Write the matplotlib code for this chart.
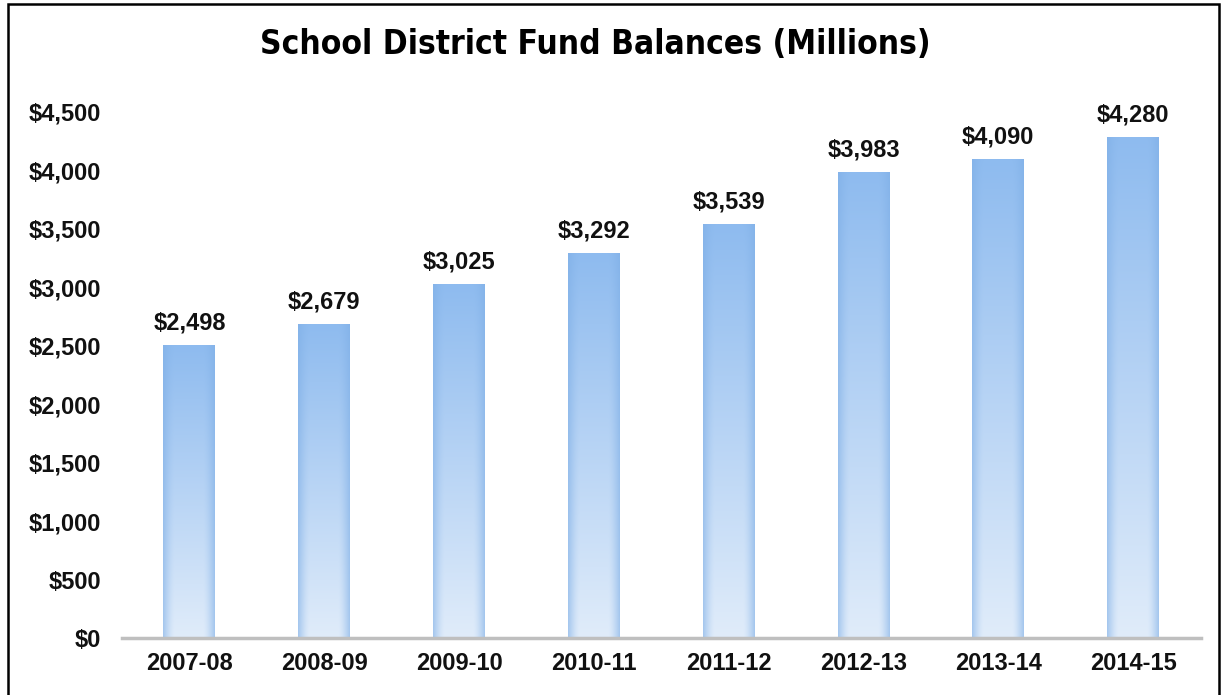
import numpy as np
import matplotlib.pyplot as plt
from matplotlib.patches import Rectangle
from matplotlib.colors import to_rgb

years = ['2007-08', '2008-09', '2009-10', '2010-11', '2011-12', '2012-13', '2013-14', '2014-15']
balances = [2498, 2679, 3025, 3292, 3539, 3983, 4090, 4280]
yticks = [0, 500, 1000, 1500, 2000, 2500, 3000, 3500, 4000, 4500]

plt.rcParams['font.family'] = ['Liberation Sans', 'DejaVu Sans']

fig = plt.figure(figsize=(12.25, 6.95), dpi=100)
ax = fig.add_axes([0.0996, 0.082, 0.8804, 0.757])

x = np.arange(len(years))
width = 0.385
bars = ax.bar(x, balances, width=width, color='none', edgecolor='none', zorder=3)

# gradient fill: dark top -> light bottom, edges a bit darker
top = np.array(to_rgb('#8ebbef'))
bot = np.array(to_rgb('#e0ecfa'))
edge = np.array(to_rgb('#7fafe6'))
ny, nx = 200, 60
t = np.linspace(0, 1, ny)[:, None, None]        # 0 at bottom row
base = bot * (1 - t) + top * t
u = np.linspace(-1, 1, nx)[None, :, None]
w = np.clip((np.abs(u) - 0.55) / 0.45, 0, 1) ** 1.5
img = base * (1 - w * 0.6) + edge * (w * 0.6)

for b, v in zip(bars, balances):
    x0 = b.get_x()
    ax.imshow(img, extent=[x0, x0 + width, 0, v], origin='lower',
              aspect='auto', zorder=3, interpolation='bilinear')
    ax.text(x0 + width / 2, v + 95, '${:,}'.format(v), ha='center', va='bottom',
            fontsize=17, fontweight='bold', color='#111111', zorder=4)

ax.set_xlim(-0.5, len(years) - 0.5)
ax.set_ylim(0, 4500)
ax.set_yticks(yticks)
ax.set_yticklabels(['${:,}'.format(v) for v in yticks])
ax.set_xticks(x)
ax.set_xticklabels(years)
for lab in ax.get_xticklabels() + ax.get_yticklabels():
    lab.set_fontweight('bold')
    lab.set_fontsize(17)
ax.tick_params(axis='both', length=0, colors='#111111')
ax.tick_params(axis='x', pad=10)
ax.tick_params(axis='y', pad=15)

for s in ['top', 'right', 'left']:
    ax.spines[s].set_visible(False)
ax.spines['bottom'].set_color('#bfbfbf')
ax.spines['bottom'].set_linewidth(2.5)
ax.spines['bottom'].set_zorder(5)

fig.text(0.486, 0.9355, 'School District Fund Balances (Millions)', ha='center', va='center',
         fontsize=24, fontweight='bold', fontstretch='condensed',
         family=['DejaVu Sans', 'Liberation Sans'])

fig.patches.append(Rectangle((0.0065, -0.01), 0.989, 1.004, transform=fig.transFigure,
                             fill=False, edgecolor='black', linewidth=1.8))

fig.savefig('out.png', dpi=100)
